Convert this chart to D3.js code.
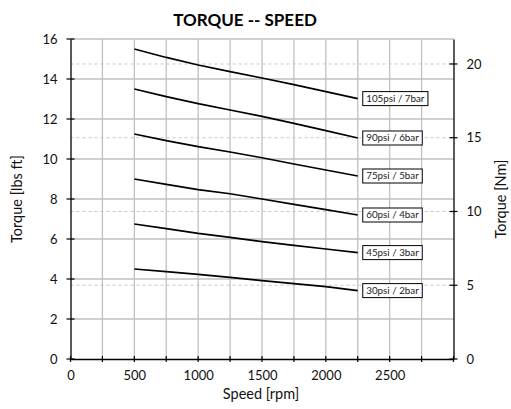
<!DOCTYPE html>
<html>
<head>
<meta charset="utf-8">
<script src="https://cdn.jsdelivr.net/npm/d3@7"></script>
<style>
  html, body { margin: 0; padding: 0; background: #fff; }
  svg { display: block; font-family: Lato, "Open Sans", sans-serif; }
</style>
</head>
<body>
<svg id="chart" width="511" height="409"></svg>
<script>
// ---- Data ----
const speeds = [500, 750, 1000, 1250, 1500, 1750, 2000, 2250];
const seriesNames = ["105psi / 7bar", "90psi / 6bar", "75psi / 5bar", "60psi / 4bar", "45psi / 3bar", "30psi / 2bar"];
const torque105 = [15.5, 15.08, 14.7, 14.37, 14.05, 13.72, 13.37, 13.02];
const torque90  = [13.5, 13.12, 12.77, 12.45, 12.13, 11.78, 11.42, 11.05];
const torque75  = [11.25, 10.92, 10.62, 10.35, 10.06, 9.75, 9.45, 9.15];
const torque60  = [9.0, 8.73, 8.47, 8.26, 8.0, 7.73, 7.47, 7.2];
const torque45  = [6.75, 6.52, 6.28, 6.08, 5.87, 5.68, 5.5, 5.32];
const torque30  = [4.5, 4.37, 4.23, 4.08, 3.92, 3.77, 3.62, 3.42];
const xTickLabels = [0, 500, 1000, 1500, 2000, 2500];
const yLeftTicks = [0, 2, 4, 6, 8, 10, 12, 14, 16];
const yRightTicks = [0, 5, 10, 15, 20];
const lbsftToNm = 1.35582;

const title = "TORQUE -- SPEED";
const xTitle = "Speed [rpm]";
const yLeftTitle = "Torque [lbs ft]";
const yRightTitle = "Torque [Nm]";

const series = [torque105, torque90, torque75, torque60, torque45, torque30]
  .map((vals, i) => ({ name: seriesNames[i], values: vals.map((v, j) => ({ x: speeds[j], y: v })) }));

// ---- Layout ----
const svg = d3.select("#chart");
const L = 70.5, R = 453.5, T = 39, B = 359;

const x = d3.scaleLinear().domain([0, 3000]).range([L, R]);
const y = d3.scaleLinear().domain([0, 16]).range([B, T]);
const y2 = d3.scaleLinear().domain([0, 16 * lbsftToNm]).range([B, T]);

const minorX = d3.range(250, 3000, 250);
const tickX = d3.range(0, 3001, 250);

// Vertical gridlines
svg.append("g").selectAll("line").data(minorX).join("line")
  .attr("x1", d => x(d)).attr("x2", d => x(d))
  .attr("y1", T).attr("y2", B)
  .attr("stroke", "#c0c0c0").attr("stroke-width", 1.3);

// Horizontal gridlines (left axis)
svg.append("g").selectAll("line").data(yLeftTicks.filter(d => d > 0)).join("line")
  .attr("x1", L).attr("x2", R)
  .attr("y1", d => y(d)).attr("y2", d => y(d))
  .attr("stroke", "#c0c0c0").attr("stroke-width", 1.3);

// Dashed gridlines (right axis)
svg.append("g").selectAll("line").data(yRightTicks.filter(d => d > 0)).join("line")
  .attr("x1", L).attr("x2", R)
  .attr("y1", d => y2(d)).attr("y2", d => y2(d))
  .attr("stroke", "#c8c8c8").attr("stroke-width", 1)
  .attr("stroke-dasharray", "3,3");

// Axes
const fontSize = "13px";
const gLeft = svg.append("g").attr("transform", `translate(${L},0)`)
  .call(d3.axisLeft(y).tickValues(yLeftTicks).tickSize(0).tickPadding(13).tickFormat(d3.format("d")));
const gRight = svg.append("g").attr("transform", `translate(${R},0)`)
  .call(d3.axisRight(y2).tickValues(yRightTicks).tickSize(0).tickPadding(13).tickFormat(d3.format("d")));
const gBottom = svg.append("g").attr("transform", `translate(0,${B})`)
  .call(d3.axisBottom(x).tickValues(xTickLabels).tickSize(0).tickPadding(12).tickFormat(d3.format("d")));

[gLeft, gRight, gBottom].forEach(g => {
  g.select(".domain").attr("stroke", "#000").attr("stroke-width", 1.3);
  g.selectAll("text").attr("font-size", fontSize).attr("fill", "#111").attr("font-family", "Lato, sans-serif");
});

// Cross tick marks
svg.append("g").selectAll("line").data(yLeftTicks).join("line")
  .attr("x1", L - 4).attr("x2", L + 4)
  .attr("y1", d => y(d)).attr("y2", d => y(d))
  .attr("stroke", "#000").attr("stroke-width", 1.2);
svg.append("g").selectAll("line").data(yRightTicks).join("line")
  .attr("x1", R - 4).attr("x2", R + 4)
  .attr("y1", d => y2(d)).attr("y2", d => y2(d))
  .attr("stroke", "#000").attr("stroke-width", 1.2);
svg.append("g").selectAll("line").data(tickX).join("line")
  .attr("x1", d => x(d)).attr("x2", d => x(d))
  .attr("y1", B - 3).attr("y2", B + 3)
  .attr("stroke", "#000").attr("stroke-width", 1.2);

// Lines
const line = d3.line().x(d => x(d.x)).y(d => y(d.y));
svg.append("g").selectAll("path").data(series).join("path")
  .attr("d", d => line(d.values))
  .attr("fill", "none").attr("stroke", "#000").attr("stroke-width", 1.6);

// Data labels
const lab = svg.append("g").selectAll("g").data(series).join("g")
  .attr("transform", d => {
    const last = d.values[d.values.length - 1];
    return `translate(${x(last.x) + 5},${y(last.y)})`;
  });
lab.append("rect");
lab.append("text")
  .attr("x", 3.5).attr("y", 0).attr("dy", "0.35em")
  .attr("font-size", "9.8px").attr("fill", "#222")
  .attr("font-family", "Lato, sans-serif")
  .text(d => d.name);
lab.each(function () {
  const g = d3.select(this);
  const w = g.select("text").node().getComputedTextLength();
  g.select("rect").attr("x", 0).attr("y", -7).attr("width", w + 7).attr("height", 14)
    .attr("fill", "#fff").attr("stroke", "#000").attr("stroke-width", 1);
});

// Titles
svg.append("text").attr("x", 245).attr("y", 26).attr("text-anchor", "middle")
  .attr("font-size", "17px").attr("font-weight", "bold").attr("fill", "#000")
  .text(title);
svg.append("text").attr("x", 261).attr("y", 399).attr("text-anchor", "middle")
  .attr("font-size", "14.5px").attr("fill", "#111").text(xTitle);
svg.append("text").attr("transform", `translate(22,199) rotate(-90)`).attr("text-anchor", "middle")
  .attr("font-size", "14.5px").attr("fill", "#111").text(yLeftTitle);
svg.append("text").attr("transform", `translate(506,199) rotate(-90)`).attr("text-anchor", "middle")
  .attr("font-size", "14.5px").attr("fill", "#111").text(yRightTitle);
</script>
</body>
</html>
